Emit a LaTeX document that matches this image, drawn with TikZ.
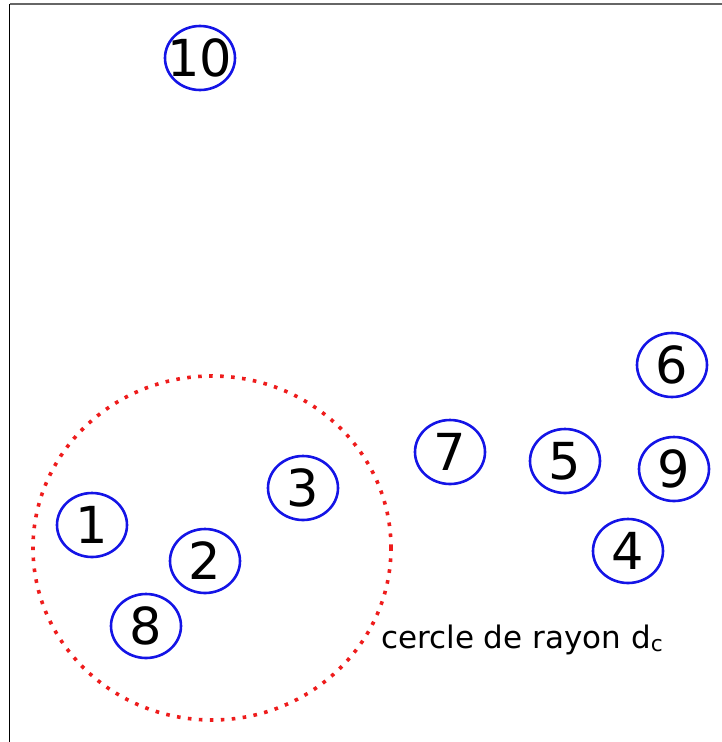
\documentclass[tikz,border=0pt]{standalone}
\usepackage{fontspec}
\setmainfont{DejaVu Sans}
\usepackage{tikz}
\usetikzlibrary{shapes.geometric}
\definecolor{ptblue}{HTML}{1414E6}
\definecolor{zonered}{HTML}{EE1C1C}
\tikzset{
  pnt/.style={ellipse, draw=ptblue, line width=2.6pt, minimum width=70pt, minimum height=64pt,
              inner sep=0pt, font=\fontsize{51}{51}\selectfont, text=black},
  zone/.style={draw=zonered, line width=3.6pt, dash pattern=on 3.6pt off 7.4pt},
  frame/.style={line width=1.3pt},
  lbl/.style={font=\fontsize{31}{31}\selectfont, anchor=base west, inner sep=0pt}
}
\begin{document}
\begin{tikzpicture}[x=1pt, y=-1pt]
 \useasboundingbox (0,0) rectangle (722,742);
 % cadre
 \coordinate (tl) at (9.5,4);
 \coordinate (tr) at (722,4);
 \coordinate (bl) at (9.5,742);
 \draw[frame, black!60] (tl) -- (tr);
 \draw[frame] (tl) -- (bl);
 % zone de rayon d_c
 \node[zone, ellipse, minimum width=358pt, minimum height=344pt, inner sep=0pt] (cercle) at (212,548) {};
 \node[lbl] (legende) at (381,648) {cercle de rayon d\textsubscript{c}};
 % points
 \node[pnt] (n1) at (92,525) {1};
 \node[pnt] (n2) at (205,561) {2};
 \node[pnt] (n3) at (303,488) {3};
 \node[pnt] (n4) at (628,551) {4};
 \node[pnt] (n5) at (565,461) {5};
 \node[pnt] (n6) at (672,365) {6};
 \node[pnt] (n7) at (450,452) {7};
 \node[pnt] (n8) at (146,626) {8};
 \node[pnt] (n9) at (674,469) {9};
 \node[pnt] (n10) at (200,58) {\makebox[0pt]{10}};
\end{tikzpicture}
\end{document}
